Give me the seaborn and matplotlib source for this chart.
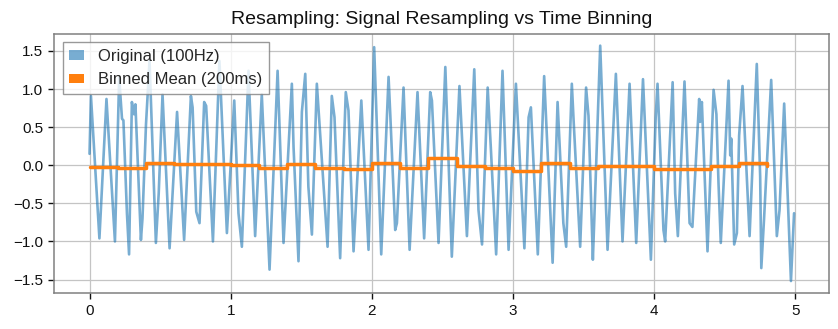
import matplotlib
matplotlib.use("Agg")
import matplotlib.pyplot as plt
from matplotlib.patches import Patch
import seaborn as sns
import pandas as pd

# Original signal (peaks, troughs and kinks)
sig_t = [0.00, 0.01, 0.07, 0.12, 0.18, 0.21, 0.23, 0.24, 0.265, 0.28,
         0.30, 0.315, 0.325, 0.364, 0.375, 0.40, 0.425, 0.47, 0.49, 0.517,
         0.567, 0.62, 0.67, 0.718, 0.73, 0.756, 0.779, 0.812, 0.826, 0.874,
         0.92, 0.973, 1.025, 1.055, 1.079, 1.126, 1.173, 1.22, 1.275, 1.332,
         1.374, 1.433, 1.445, 1.48, 1.504, 1.528, 1.55, 1.575, 1.61, 1.686,
         1.716, 1.735, 1.775, 1.79, 1.815, 1.834, 1.87, 1.925, 1.976, 2.016,
         2.066, 2.118, 2.13, 2.165, 2.177, 2.224, 2.267, 2.323, 2.37, 2.413,
         2.425, 2.472, 2.52, 2.566, 2.62, 2.673, 2.725, 2.755, 2.78, 2.82,
         2.842, 2.88, 2.925, 2.968, 3.002, 3.02, 3.08, 3.11, 3.126, 3.175,
         3.22, 3.28, 3.315, 3.356, 3.376, 3.416, 3.428, 3.475, 3.517, 3.534,
         3.565, 3.575, 3.617, 3.669, 3.728, 3.775, 3.825, 3.872, 3.92, 3.976,
         4.01, 4.023, 4.065, 4.077, 4.13, 4.148, 4.167, 4.214, 4.25, 4.27,
         4.318, 4.325, 4.337, 4.377, 4.42, 4.44, 4.455, 4.471, 4.526, 4.538,
         4.545, 4.566, 4.585, 4.601, 4.625, 4.675, 4.726, 4.75, 4.758, 4.777,
         4.828, 4.868, 4.887, 4.92, 4.968, 4.99]
sig_v = [0.15, 0.91, -0.96, 0.87, -1.00, 1.15, 0.61, 0.59, -0.63, -1.17,
         0.83, 0.67, 0.80, -0.98, -0.70, 0.54, 1.37, -1.02, -0.37, 0.93,
         -1.09, 0.70, -0.98, 0.91, 0.76, -0.61, -0.76, 0.83, 0.78, -1.00,
         1.37, -0.89, 0.85, -0.63, -1.07, 1.24, -0.93, 0.93, -1.37, 1.24,
         -1.02, 1.07, 0.24, -1.26, 0.70, 1.20, -0.28, -0.91, 1.07, -1.07,
         0.91, 0.63, -1.22, -0.37, 0.96, 0.72, -1.13, 0.85, -1.11, 1.55,
         -1.17, 1.16, 0.67, -0.85, -0.76, 1.02, -1.11, 0.96, -0.96, 0.96,
         0.85, -1.02, 1.29, -1.20, 1.04, -0.93, 1.26, -0.59, -1.04, 1.02,
         0.24, -1.17, 1.24, -1.11, 0.33, 1.07, -1.09, 0.63, 0.76, -1.17,
         1.17, -1.28, 0.83, -0.76, -1.07, 1.07, 0.61, -1.07, 1.02, 0.65,
         -1.24, -0.72, 1.57, -1.11, 1.20, -1.00, 1.07, -1.02, 1.13, -1.24,
         0.63, 1.07, -0.85, -1.00, 1.09, -0.37, -0.93, 1.10, -0.76, -0.81,
         0.87, 0.57, 0.83, -1.13, 0.99, 0.67, -0.24, -1.02, 1.11, 0.13,
         0.35, -1.04, -0.89, 0.39, 1.04, -0.93, 1.33, -0.15, -1.35, -0.72,
         1.12, -0.93, -0.59, 0.81, -1.52, -0.63]

# Binned means (200 ms bins)
bin_t = [0.0, 0.2, 0.4, 0.6, 0.8, 1.0, 1.2, 1.4, 1.6, 1.8, 2.0, 2.2, 2.4,
         2.6, 2.8, 3.0, 3.2, 3.4, 3.6, 3.8, 4.0, 4.2, 4.4, 4.6, 4.8]
bin_v = [-0.02, -0.03, 0.03, 0.02, 0.02, 0.00, -0.04, 0.02, -0.035, -0.05,
         0.03, -0.035, 0.10, -0.005, -0.035, -0.08, 0.035, -0.03, -0.015,
         -0.005, -0.05, -0.05, -0.015, 0.03, -0.015]

x_ticks = [0, 1, 2, 3, 4, 5]
y_ticks = [-1.5, -1.0, -0.5, 0.0, 0.5, 1.0, 1.5]
y_tick_labels = ["\u22121.5", "\u22121.0", "\u22120.5", "0.0", "0.5", "1.0", "1.5"]

sns.set_theme(style="whitegrid")
plt.rcParams["font.family"] = ["Liberation Sans", "DejaVu Sans"]

fig = plt.figure(figsize=(8.38, 3.29), dpi=100)
ax = fig.add_axes([0.0648, 0.11, 0.9248, 0.787])

df_sig = pd.DataFrame({"t": sig_t, "v": sig_v})
df_bin = pd.DataFrame({"t": bin_t, "v": bin_v})

sns.lineplot(data=df_sig, x="t", y="v", ax=ax, color="#1f77b4", alpha=0.6,
             linewidth=1.9, estimator=None)
sns.lineplot(data=df_bin, x="t", y="v", ax=ax, color="#ff7f0e",
             linewidth=2.5, drawstyle="steps-post", estimator=None)

ax.set_title("Resampling: Signal Resampling vs Time Binning", fontsize=14,
             color="#111111", pad=7)
ax.set_xlabel("")
ax.set_ylabel("")
ax.set_xticks(x_ticks)
ax.set_xticklabels([str(v) for v in x_ticks])
ax.set_yticks(y_ticks)
ax.set_yticklabels(y_tick_labels)
ax.tick_params(axis="both", labelsize=11, length=4, width=1, color="#111111",
               labelcolor="#111111", bottom=True, left=True, pad=4)
ax.grid(True, color="#c4c4c4", linewidth=0.9)
for s in ax.spines.values():
    s.set_color("#808080")
    s.set_linewidth(1.1)

handles = [Patch(facecolor="#1f77b4", alpha=0.6, edgecolor="none"),
           Patch(facecolor="#ff7f0e", edgecolor="none")]
leg = ax.legend(handles, ["Original (100Hz)", "Binned Mean (200ms)"],
                loc="upper left", fontsize=12, fancybox=False, framealpha=0.8,
                edgecolor="#808080", borderaxespad=0.5, handlelength=0.9,
                handleheight=0.5)
leg.get_frame().set_linewidth(1.0)

fig.savefig("out.png", dpi=100)
